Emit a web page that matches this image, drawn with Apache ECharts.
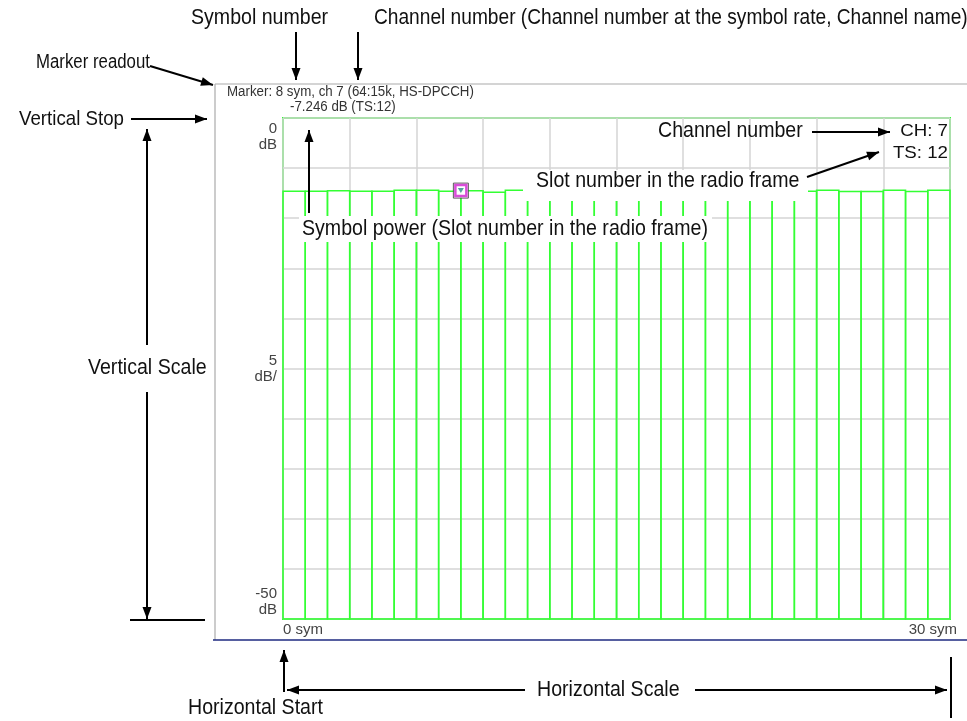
<!DOCTYPE html>
<html>
<head>
<meta charset="utf-8">
<script src="https://cdn.jsdelivr.net/npm/echarts@6/dist/echarts.min.js"></script>
<style>
html,body{margin:0;padding:0;background:#fff;}
#chart{width:967px;height:721px;}
</style>
</head>
<body>
<div id="chart"></div>
<script>
// ---- data ----
var symbols = [0,1,2,3,4,5,6,7,8,9,10,11,12,13,14,15,16,17,18,19,20,21,22,23,24,25,26,27,28,29];
var power = [-7.30,-7.30,-7.25,-7.30,-7.30,-7.20,-7.20,-7.30,-7.25,-7.40,
             -7.20,-7.30,-7.25,-7.30,-7.20,-7.30,-7.25,-7.30,-7.20,-7.30,
             -7.25,-7.30,-7.20,-7.30,-7.20,-7.33,-7.33,-7.20,-7.33,-7.20];
var yRange = [-50, 0];
var xRange = [0, 30];
var yTickLabels = [{v: 0, t: '0\ndB'}, {v: -25, t: '5\ndB/'}, {v: -50, t: '-50\ndB'}];
var xTickLabels = [{v: 0, t: '0 sym'}, {v: 30, t: '30 sym'}];
var markerSymbol = 8;
var markerValue = -7.246;
var markerLine1 = 'Marker: 8 sym, ch 7 (64:15k, HS-DPCCH)';
var markerLine2 = '-7.246 dB (TS:12)';
var channelText = 'CH: 7';
var slotText = 'TS: 12';

var chart = echarts.init(document.getElementById('chart'));
var GREEN = '#33ff33';
var FONT = '"Liberation Sans", Arial, sans-serif';

function lbl(text, x, y, align, size, opt) {
  opt = opt || {};
  return {
    type: 'text', z: 120, x: x, y: y, scaleX: opt.scaleX || 1, originX: 0,
    style: {text: text, font: (size || 15) + 'px ' + FONT, fill: opt.fill || '#222',
      align: align || 'left', verticalAlign: opt.va || 'middle', lineHeight: opt.lh || 16}
  };
}
function ann(text, x, y, align, size, sx) {
  return lbl(text, x, y, align, size || 22, {scaleX: sx || 0.89, fill: '#111'});
}
function line(x1, y1, x2, y2, w, c) {
  return {type: 'line', z: 120, shape: {x1: x1, y1: y1, x2: x2, y2: y2},
    style: {stroke: c || '#000', lineWidth: w || 2}};
}
function head(x1, y1, x2, y2) {
  var a = Math.atan2(y2 - y1, x2 - x1), L = 12, W = 4.5;
  var bx = x2 - L * Math.cos(a), by = y2 - L * Math.sin(a);
  return {type: 'polygon', z: 121, shape: {points: [[x2, y2],
    [bx + W * Math.sin(a), by - W * Math.cos(a)], [bx - W * Math.sin(a), by + W * Math.cos(a)]]},
    style: {fill: '#000'}};
}
function arrow(x1, y1, x2, y2) { return [line(x1, y1, x2, y2, 2), head(x1, y1, x2, y2)]; }

var barData = symbols.map(function (s, i) { return [s, power[i]]; });

chart.setOption({
  animation: false,
  backgroundColor: '#fff',
  grid: {left: 283, top: 118, right: 17, bottom: 102, show: true,
    borderColor: GREEN, borderWidth: 2, backgroundColor: '#fff'},
  xAxis: {type: 'value', min: xRange[0], max: xRange[1], interval: 3,
    axisLine: {show: false}, axisTick: {show: false}, axisLabel: {show: false},
    splitLine: {show: true, lineStyle: {color: '#d4d4d4', width: 1.5}}},
  yAxis: {type: 'value', min: yRange[0], max: yRange[1], interval: 5,
    axisLine: {show: false}, axisTick: {show: false}, axisLabel: {show: false},
    splitLine: {show: true, lineStyle: {color: '#d4d4d4', width: 1.5}}},
  series: [{
    type: 'custom', z: 3,
    data: barData,
    renderItem: function (params, api) {
      var s = api.value(0), v = api.value(1);
      var p0 = api.coord([s, v]);
      var p1 = api.coord([s + 1, yRange[0]]);
      return {type: 'rect', shape: {x: p0[0], y: p0[1], width: p1[0] - p0[0], height: p1[1] - p0[1]},
        style: {fill: 'none', stroke: GREEN, lineWidth: 1.5}};
    }
  }, {
    type: 'scatter', z: 10, data: [[markerSymbol, markerValue]],
    symbol: 'rect', symbolSize: 15,
    itemStyle: {color: '#fff', borderColor: '#333', borderWidth: 1}
  }, {
    type: 'scatter', z: 11, data: [[markerSymbol, markerValue]],
    symbol: 'rect', symbolSize: 11,
    itemStyle: {color: '#fff', borderColor: '#d020d0', borderWidth: 2.5}
  }, {
    type: 'scatter', z: 12, data: [[markerSymbol, markerValue]],
    symbol: 'triangle', symbolRotate: 180, symbolSize: [6, 5],
    itemStyle: {color: '#2a8a8a'}
  }]
});

// labels placed through the axes' scales
var g = [];
yTickLabels.forEach(function (t, i) {
  var p = chart.convertToPixel({gridIndex: 0}, [xRange[0], t.v]);
  var va = i === 0 ? 'top' : (i === yTickLabels.length - 1 ? 'bottom' : 'middle');
  var y = i === 0 ? p[1] + 3 : (i === yTickLabels.length - 1 ? p[1] - 1 : p[1]);
  g.push(lbl(t.t, p[0] - 6, y, 'right', 15, {va: va, fill: '#444', lh: 16}));
});
xTickLabels.forEach(function (t, i) {
  var p = chart.convertToPixel({gridIndex: 0}, [t.v, yRange[0]]);
  g.push(lbl(t.t, p[0] + (i === 0 ? 0 : 7), p[1] + 11, i === 0 ? 'left' : 'right', 15, {fill: '#444'}));
});
// outer frame
g.push(line(215, 84, 967, 84, 1.2, '#aaaaaa'));
g.push(line(215, 84, 215, 640, 1.2, '#aaaaaa'));
g.push(line(213, 640, 967, 640, 1.5, '#1e2a80'));
// marker readout
g.push(lbl(markerLine1, 227, 92, 'left', 14, {fill: '#333', scaleX: 0.95}));
g.push(lbl(markerLine2, 290, 107, 'left', 14, {fill: '#333', scaleX: 0.95}));
// channel / slot readout (right aligned at the plot's right edge)
g.push({type: 'text', z: 120, x: 948, y: 131, scaleX: 1.1,
  style: {text: channelText, font: '17px ' + FONT, fill: '#111', align: 'right', verticalAlign: 'middle'}});
g.push({type: 'text', z: 120, x: 948, y: 153, scaleX: 1.1,
  style: {text: slotText, font: '17px ' + FONT, fill: '#111', align: 'right', verticalAlign: 'middle'}});
// white backings for annotations inside plot
g.push({type: 'rect', z: 110, shape: {x: 523, y: 170, width: 285, height: 31}, style: {fill: '#fff'}});
g.push({type: 'rect', z: 110, shape: {x: 299, y: 216, width: 413, height: 26}, style: {fill: '#fff'}});

// annotations
g.push(ann('Symbol number', 191, 18, 'left'));
g.push(ann('Channel number (Channel number at the symbol rate, Channel name)', 374, 18, 'left', 22, 0.87));
g = g.concat(arrow(296, 32, 296, 80));
g = g.concat(arrow(358, 32, 358, 80));
g.push(ann('Marker readout', 36, 62, 'left', 20, 0.84));
g = g.concat(arrow(150, 66, 213, 85));
g.push(ann('Vertical Stop', 19, 119, 'left', 21));
g = g.concat(arrow(131, 119, 207, 119));
g.push(ann('Vertical Scale', 88, 368, 'left'));
g = g.concat(arrow(147, 345, 147, 129));
g = g.concat(arrow(147, 392, 147, 619));
g.push(line(130, 620, 205, 620, 2));
g.push(ann('Channel number', 658, 131, 'left'));
g = g.concat(arrow(812, 132, 890, 132));
g.push(ann('Slot number in the radio frame', 536, 181, 'left'));
g = g.concat(arrow(807, 177, 879, 152));
g.push(ann('Symbol power (Slot number in the radio frame)', 302, 229, 'left'));
g = g.concat(arrow(309, 213, 309, 130));
g = g.concat(arrow(284, 692, 284, 650));
g.push(ann('Horizontal Start', 188, 708, 'left'));
g = g.concat(arrow(525, 690, 287, 690));
g = g.concat(arrow(695, 690, 947, 690));
g.push(ann('Horizontal Scale', 537, 690, 'left'));
g.push(line(951, 657, 951, 718, 2));

chart.setOption({graphic: {elements: g}});
</script>
</body>
</html>
